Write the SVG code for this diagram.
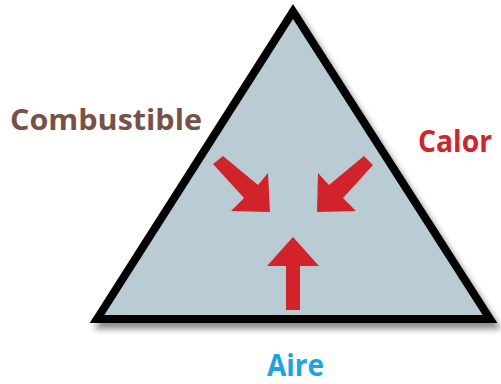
<svg xmlns="http://www.w3.org/2000/svg" width="501" height="384" viewBox="0 0 501 384">
<defs>
<filter id="sh" x="-10%" y="-10%" width="130%" height="130%">
<feGaussianBlur in="SourceAlpha" stdDeviation="3"/>
<feOffset dx="4" dy="6" result="b"/>
<feComponentTransfer><feFuncA type="linear" slope="0.45"/></feComponentTransfer>
<feMerge><feMergeNode/><feMergeNode in="SourceGraphic"/></feMerge>
</filter>
<style>
.lbl{font-family:"Open Sans","Liberation Sans",sans-serif;font-weight:bold;font-size:28px}
.big{font-size:30px}
.arr{fill:#d2232a}
</style>
</defs>
<rect width="501" height="384" fill="#ffffff"/>
<g id="triangle">
<polygon points="293,11.5 97,319 490,319" fill="#b9cbd3" stroke="#000" stroke-width="8" stroke-miterlimit="10" filter="url(#sh)"/>
</g>
<g id="connectors">
<polygon class="arr" points="213,164 223,156 258,185 268,173 270,212 231,211 244,198"/>
<polygon class="arr" points="373,165 364,156 329,185 318,173 317,212 356,211 343,198"/>
<polygon class="arr" points="286,310 300,310 300,266 319,266 293,237 267,266 286,266"/>
</g>
<g id="combustible"><text class="lbl" x="10" y="130" fill="#7a5046" textLength="192" lengthAdjust="spacingAndGlyphs">Combustible</text></g>
<g id="calor"><text class="lbl big" x="418" y="152" fill="#d2232a" textLength="74" lengthAdjust="spacingAndGlyphs">Calor</text></g>
<g id="aire"><text class="lbl big" x="267" y="376" fill="#1ba3e6" textLength="57" lengthAdjust="spacingAndGlyphs">Aire</text></g>
</svg>
